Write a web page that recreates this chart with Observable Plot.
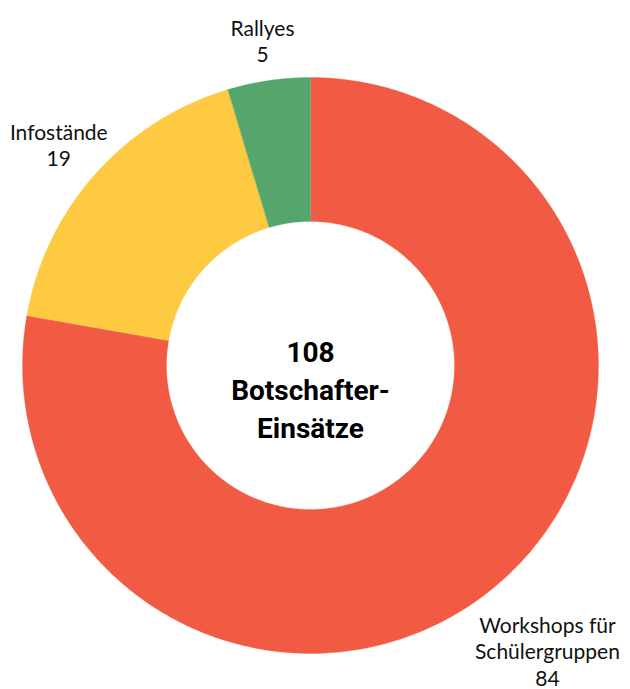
<!DOCTYPE html>
<html>
<head>
<meta charset="utf-8">
<script src="https://cdn.jsdelivr.net/npm/d3@7"></script>
<script src="https://cdn.jsdelivr.net/npm/@observablehq/plot@0.6"></script>
<style>
  html, body { margin: 0; padding: 0; background: #fff; }
  #chart svg { display: block; }
</style>
</head>
<body>
<div id="chart"></div>
<script>
// Botschafter-Einsätze nach Art
const categories = ["Workshops für\nSchülergruppen", "Infostände", "Rallyes"];
const values = [84, 19, 5];
const colors = ["#F15B43", "#FDCA41", "#55A66C"];
const centerLabel = ["Botschafter-", "Einsätze"];

const total = d3.sum(values);

// donut geometry in unit coordinates (outer radius = 1)
const innerRadius = 0.5;
const labelRadius = [1.28, 1.17, 1.15];

const pie = d3.pie().sort(null).value(d => d.value);
const slices = pie(categories.map((name, i) => ({name, value: values[i], i})));

// ring polygons: outer arc clockwise, inner arc back
const ring = [];
for (const s of slices) {
  const n = Math.max(8, Math.ceil((s.endAngle - s.startAngle) * 80));
  for (let k = 0; k <= n; k++) {
    const a = s.startAngle + (s.endAngle - s.startAngle) * k / n;
    ring.push({name: s.data.name, x: Math.sin(a), y: Math.cos(a)});
  }
  for (let k = n; k >= 0; k--) {
    const a = s.startAngle + (s.endAngle - s.startAngle) * k / n;
    ring.push({name: s.data.name, x: innerRadius * Math.sin(a), y: innerRadius * Math.cos(a)});
  }
}

const labels = slices.map(s => {
  const a = (s.startAngle + s.endAngle) / 2;
  const r = labelRadius[s.data.i];
  return {text: s.data.name + "\n" + s.data.value, x: r * Math.sin(a), y: r * Math.cos(a)};
});

const cx = 310, cy = 365, R = 288;
const boldFont = "Roboto, 'Liberation Sans', sans-serif";

const chart = Plot.plot({
  width: 630,
  height: 689,
  margin: 0,
  style: {fontFamily: "Lato, 'Open Sans', sans-serif", background: "#fff", overflow: "visible"},
  x: {domain: [-1, 1], range: [cx - R, cx + R], axis: null},
  y: {domain: [1, -1], range: [cy - R, cy + R], axis: null},
  color: {domain: categories, range: colors},
  marks: [
    Plot.line(ring, {x: "x", y: "y", z: "name", fill: "name", stroke: "name", strokeWidth: 0.3, curve: "linear-closed"}),
    Plot.text(labels, {x: "x", y: "y", text: "text", fontSize: 21, lineHeight: 1.25, lineAnchor: "middle", dy: 3, fill: "#111"}),
    Plot.text([[String(total), ...centerLabel].join("\n")], {x: 0, y: 0, text: d => d, fontSize: 28, fontWeight: "bold", fontFamily: boldFont, lineAnchor: "middle", lineHeight: 1.36, dy: 22, fill: "#000"})
  ]
});

document.getElementById("chart").appendChild(chart);
</script>
</body>
</html>
